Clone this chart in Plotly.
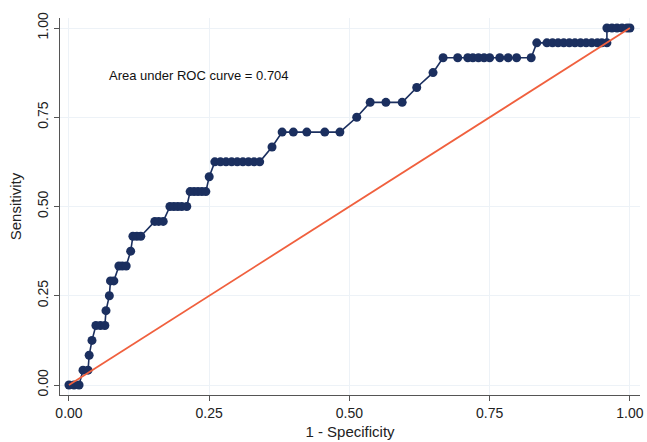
import plotly.graph_objects as go

# ROC points: 1 - specificity (x) and sensitivity (y)
fpr = [0.0, 0.009, 0.018,
       0.025, 0.034,
       0.036,
       0.041,
       0.048, 0.056, 0.064,
       0.066,
       0.072,
       0.074, 0.080,
       0.089, 0.095, 0.102,
       0.110,
       0.114, 0.121, 0.128,
       0.153, 0.160, 0.168,
       0.180, 0.187, 0.194, 0.201, 0.210,
       0.216, 0.223, 0.230, 0.237, 0.244,
       0.250,
       0.260, 0.270, 0.280, 0.290, 0.300, 0.310, 0.320, 0.330, 0.340,
       0.362,
       0.380, 0.400, 0.424, 0.456, 0.483,
       0.513,
       0.537, 0.565, 0.594,
       0.620,
       0.649,
       0.667, 0.693, 0.711, 0.720, 0.730, 0.740, 0.750, 0.768, 0.783, 0.798, 0.824,
       0.834, 0.852, 0.862, 0.872, 0.882, 0.892, 0.902, 0.912, 0.922, 0.932, 0.942, 0.950, 0.959,
       0.959, 0.968, 0.977, 0.986, 0.995, 1.0]
sens_counts = [0, 0, 0,
               1, 1,
               2,
               3,
               4, 4, 4,
               5,
               6,
               7, 7,
               8, 8, 8,
               9,
               10, 10, 10,
               11, 11, 11,
               12, 12, 12, 12, 12,
               13, 13, 13, 13, 13,
               14,
               15, 15, 15, 15, 15, 15, 15, 15, 15,
               16,
               17, 17, 17, 17, 17,
               18,
               19, 19, 19,
               20,
               21,
               22, 22, 22, 22, 22, 22, 22, 22, 22, 22, 22,
               23, 23, 23, 23, 23, 23, 23, 23, 23, 23, 23, 23, 23,
               24, 24, 24, 24, 24, 24]
n_pos = 24
sens = [c / n_pos for c in sens_counts]

ref_x = [0, 1]
ref_y = [0, 1]
tick_vals = [0, 0.25, 0.5, 0.75, 1.0]
tick_text = ["0.00", "0.25", "0.50", "0.75", "1.00"]
auc_label = "Area under ROC curve = 0.704"

navy = "#1b2f5f"
font_family = "Liberation Sans, Arial, Helvetica, sans-serif"

fig = go.Figure()
fig.add_trace(go.Scatter(
    x=fpr, y=sens, mode="lines+markers",
    line=dict(color=navy, width=1.6),
    marker=dict(color=navy, size=9),
    showlegend=False, hoverinfo="skip"))
fig.add_trace(go.Scatter(
    x=ref_x, y=ref_y, mode="lines",
    line=dict(color="#f0603e", width=1.8),
    showlegend=False, hoverinfo="skip"))

fig.add_annotation(x=0.068, y=0.868, text=auc_label, showarrow=False,
                   xanchor="left", yanchor="middle",
                   font=dict(size=13, color="#111111", family=font_family))

axis_common = dict(
    tickvals=tick_vals, ticktext=tick_text,
    showline=True, linecolor="#555555", linewidth=1.2,
    ticks="outside", ticklen=5, tickcolor="#555555", tickwidth=1.2,
    showgrid=True, gridcolor="#edf2f7", gridwidth=1,
    zeroline=False, automargin=False,
    tickfont=dict(size=14, color="#222222", family=font_family),
)

fig.update_layout(
    width=647, height=442,
    margin=dict(l=60, r=7, t=18, b=47),
    paper_bgcolor="white", plot_bgcolor="white",
    font=dict(family=font_family),
    xaxis=dict(range=[-0.016, 1.018],
               title=dict(text="1 - Specificity", standoff=6,
                          font=dict(size=15, color="#222222", family=font_family)),
               **axis_common),
    yaxis=dict(range=[-0.028, 1.028], tickangle=-90,
               title=dict(text="Sensitivity", standoff=10,
                          font=dict(size=15, color="#222222", family=font_family)),
               **axis_common),
)

fig.write_html("out.html", config={"displayModeBar": False},
               post_script="document.body.style.margin='0';document.body.style.overflow='hidden';")
